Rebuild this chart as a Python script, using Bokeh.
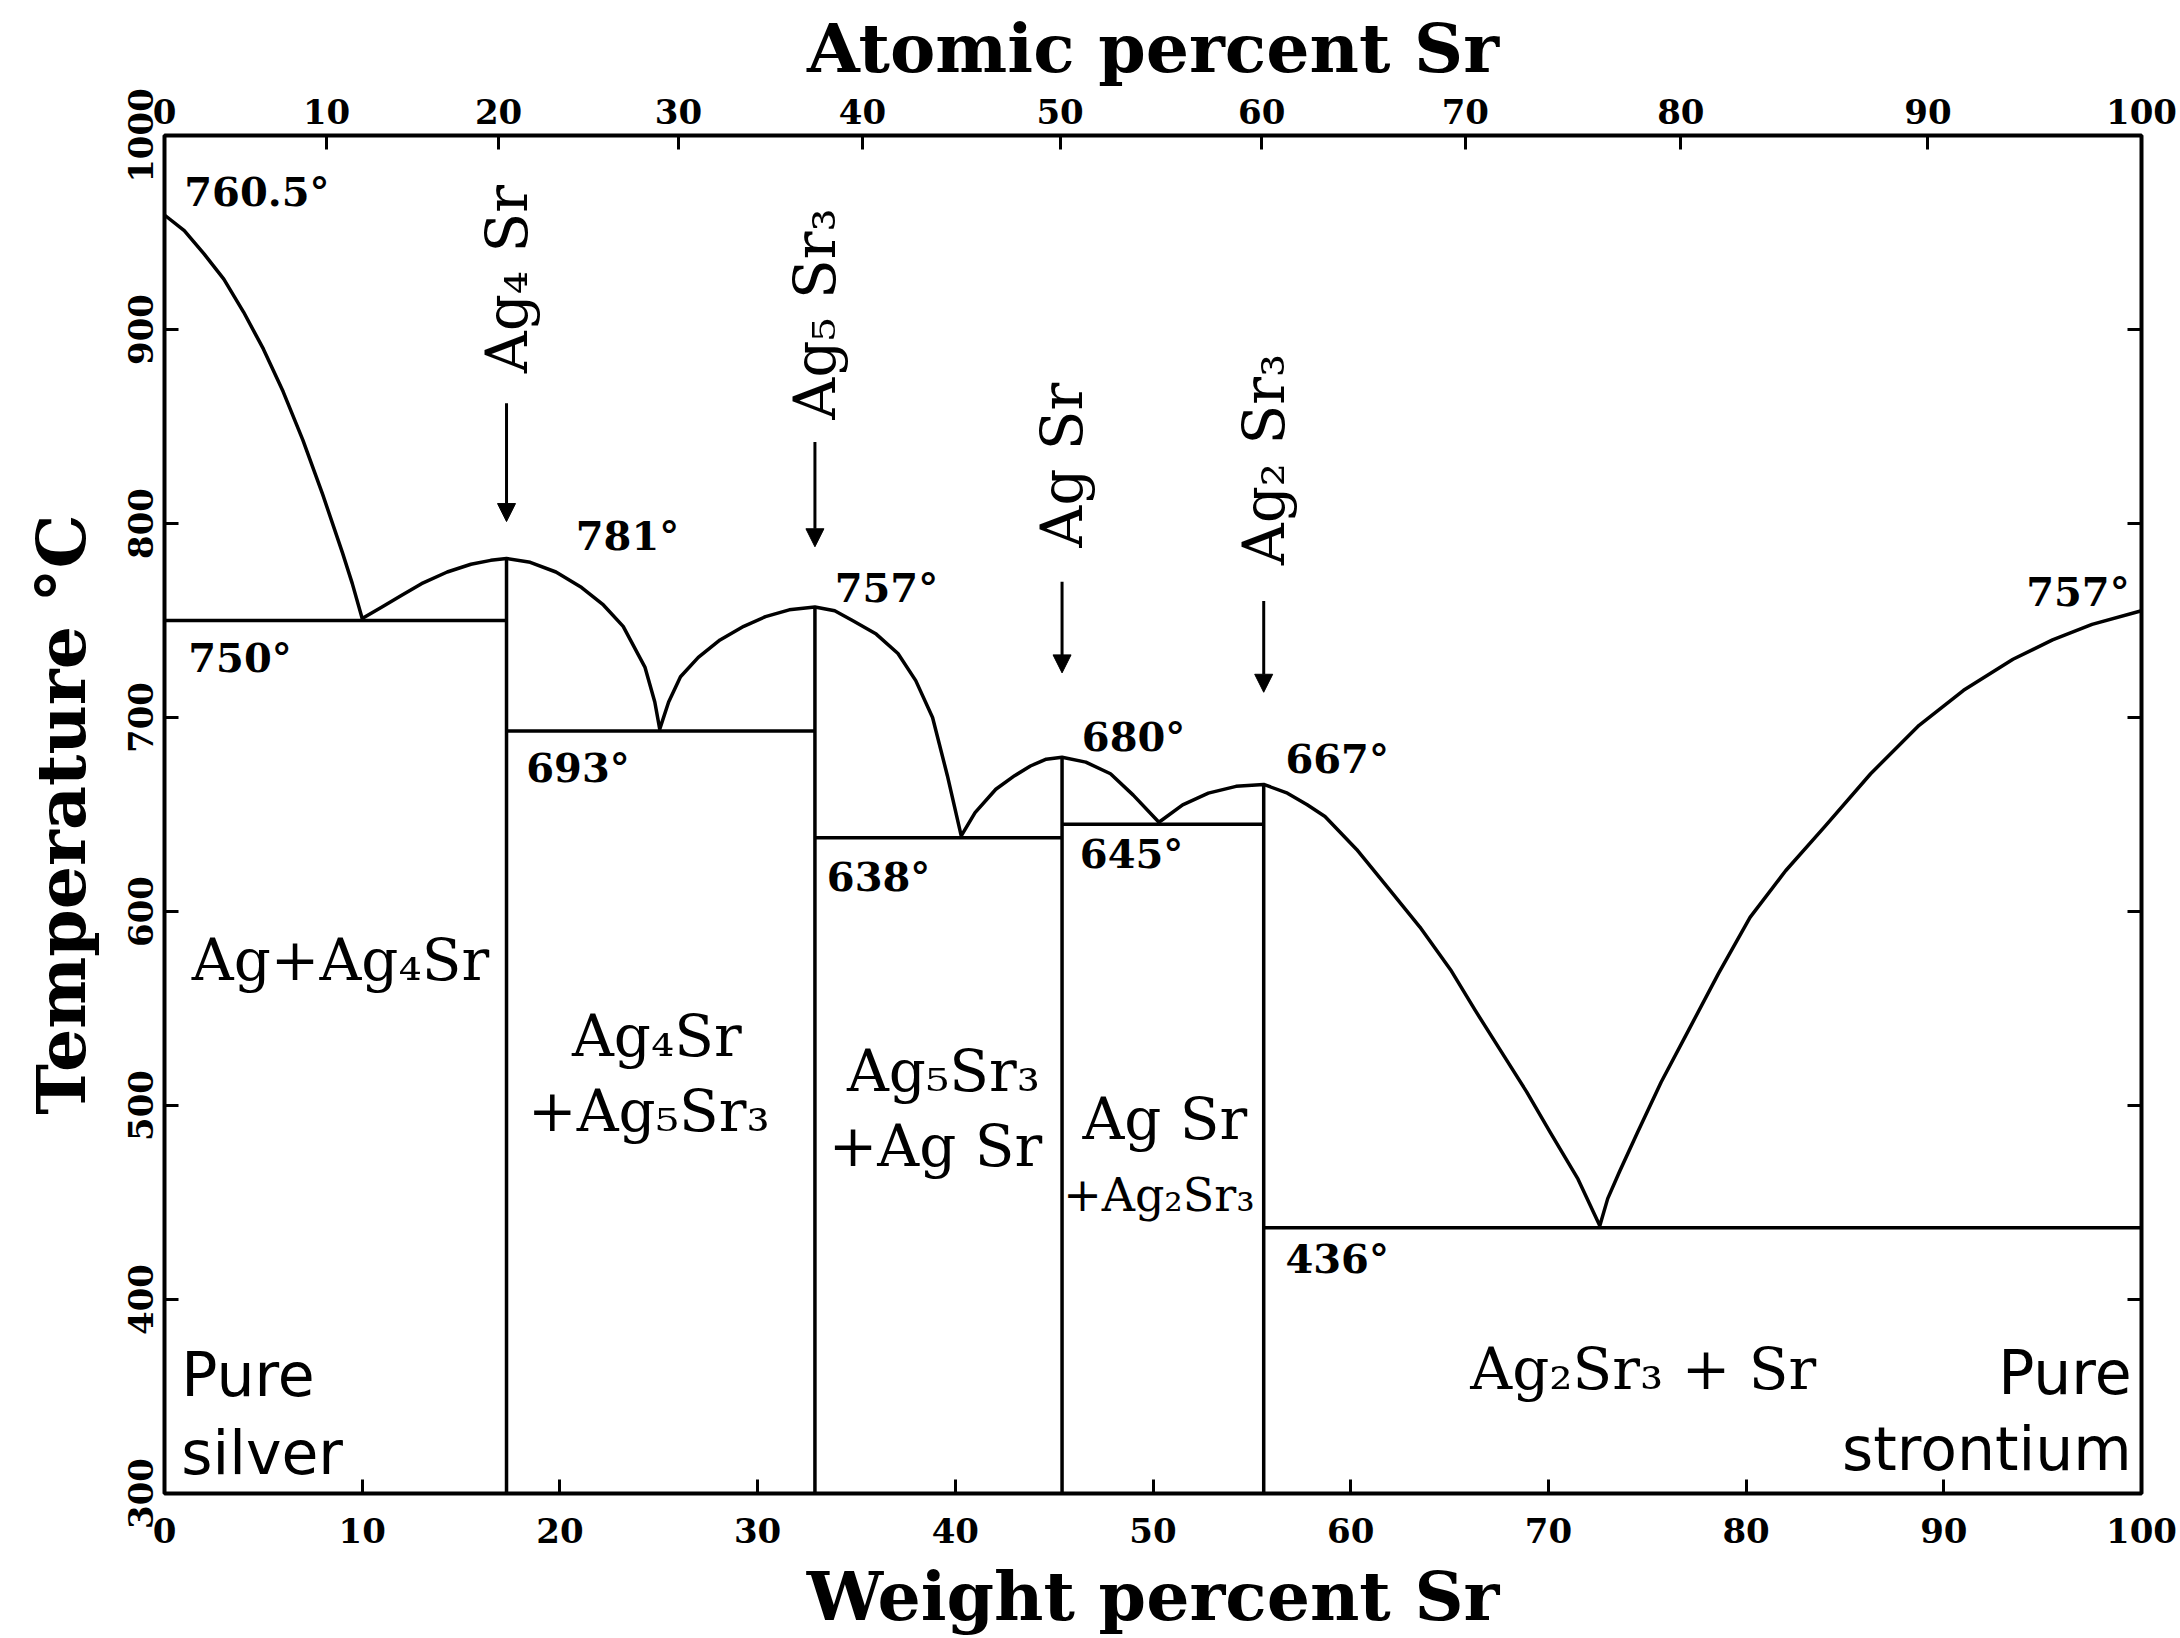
import math
from bokeh.plotting import figure
from bokeh.models import (Range1d, LinearAxis, FixedTicker, ColumnDataSource, Arrow,
                          NormalHead, CustomJSTickFormatter)
from bokeh.embed import file_html
from bokeh.resources import INLINE
from bokeh.core.properties import value

# ---------------- data (weight % Sr, temperature °C) ----------------
liquidus_wt = [0, 1, 2, 3, 4, 5, 6, 7, 8, 9, 9.5, 10.0,
               11, 12, 13, 14.3, 15.5, 16.5, 17.3,
               18.5, 19.8, 21.1, 22.2, 23.2, 24.3, 24.8, 25.05,
               25.5, 26.1, 27, 28.1, 29.3, 30.4, 31.6, 32.9,
               33.9, 34.8, 36, 37.1, 38, 38.85, 39.6, 40.3,
               41, 42.05, 43, 43.8, 44.6, 45.4,
               46.6, 47.85, 49, 50.3,
               51.5, 52.8, 54.2, 55.6,
               56.8, 57.8, 58.7, 60.3, 61.9, 63.5, 65.05, 66.3, 67.6, 68.9, 70.1, 71.5, 72.6,
               73.0, 73.6, 74.5, 75.7, 77.1, 78.6, 80.2, 82, 84.0, 86.3, 88.75, 91, 93.5, 95.5,
               97.5, 100]
liquidus_T = [959, 951, 939, 926, 909, 890, 868, 843, 815, 785, 769, 751,
              757, 763, 769, 775, 779, 781, 782,
              780, 775, 767, 758, 747, 726, 708, 694,
              708, 721, 731, 740, 747, 752, 755.5, 757,
              755, 750, 743, 733, 719, 700, 670, 639,
              651, 663, 670, 675, 678.5, 679.5,
              677, 671, 660, 646,
              655, 661, 664.5, 665.5,
              661, 655, 649, 632, 612, 592, 570, 549, 528, 507, 486, 462, 438,
              452, 466, 486, 512, 539, 568, 597, 621, 644, 671, 696, 714, 730, 740,
              748, 755]

compound_names = ["Ag\u2084 Sr", "Ag\u2085 Sr\u2083", "Ag Sr", "Ag\u2082 Sr\u2083"]
compound_wt = [17.3, 32.9, 45.4, 55.6]
compound_peak_T = [782, 757, 679.5, 665.5]
compound_label_T = [926, 908, 830, 833]
arrow_top_T = [862, 842, 770, 760]
arrow_tip_T = [801, 788, 723, 713]

eutectic_T = [750, 693, 638, 645, 437]
eutectic_from = [0, 17.3, 32.9, 45.4, 55.6]
eutectic_to = [17.3, 32.9, 45.4, 55.6, 100]

deg_text = ["760.5\u00b0", "750\u00b0", "781\u00b0", "693\u00b0", "757\u00b0", "638\u00b0",
            "680\u00b0", "645\u00b0", "667\u00b0", "436\u00b0"]
deg_wt = [1.0, 1.2, 20.8, 18.3, 33.9, 33.5, 46.4, 46.3, 56.7, 56.7]
deg_T = [971, 731, 794, 674, 767, 618, 690, 630, 679, 421]
deg_right_text = ["757\u00b0"]
deg_right_wt = [99.4]
deg_right_T = [765]

region_text = ["Ag+Ag\u2084Sr", "Ag\u2084Sr", "+Ag\u2085Sr\u2083", "Ag\u2085Sr\u2083", "+Ag Sr",
               "Ag Sr", "Ag\u2082Sr\u2083 + Sr"]
region_wt = [8.9, 24.9, 24.5, 39.4, 39.0, 50.6, 74.8]
region_T = [575, 536, 497, 518, 479, 493, 364]
small_region_text = ["+Ag\u2082Sr\u2083"]
small_region_wt = [50.3]
small_region_T = [454]

pure_left_text = ["Pure", "silver"]
pure_left_wt = [0.85, 0.85]
pure_left_T = [361, 321]
pure_right_text = ["Pure", "strontium"]
pure_right_wt = [99.5, 99.5]
pure_right_T = [362, 323]

weight_ticks = [0, 10, 20, 30, 40, 50, 60, 70, 80, 90, 100]
atomic_tick_wt = [0, 8.2, 16.9, 26.0, 35.3, 45.3, 55.5, 65.8, 76.7, 89.2, 100]
atomic_tick_labels = ["0", "10", "20", "30", "40", "50", "60", "70", "80", "90", "100"]
temp_ticks = [300, 400, 500, 600, 700, 800, 900, 1000]

# ---------------- figure ----------------
SERIF = "DejaVu Serif"
SANS = "DejaVu Sans"

p = figure(width=2180, height=1638, x_range=Range1d(0, 100), y_range=Range1d(300, 1000),
           output_backend="svg", toolbar_location=None,
           min_border_left=164, min_border_right=39, min_border_top=135, min_border_bottom=143,
           x_axis_location=None, y_axis_location=None)
p.grid.visible = False
p.outline_line_color = "black"
p.outline_line_width = 4
p.background_fill_color = "white"
p.border_fill_color = "white"


def style_axis(ax, size):
    ax.major_tick_in = 14
    ax.major_tick_out = 0
    ax.minor_tick_line_color = None
    ax.major_tick_line_width = 3
    ax.axis_line_color = None
    ax.major_label_text_font = SERIF
    ax.major_label_text_font_style = "bold"
    ax.major_label_text_font_size = size
    ax.major_label_text_color = "black"
    ax.axis_label_text_font = SERIF
    ax.axis_label_text_font_style = "bold"
    ax.axis_label_text_color = "black"


bottom = LinearAxis(ticker=FixedTicker(ticks=weight_ticks), axis_label="Weight percent Sr")
style_axis(bottom, "34px")
bottom.major_label_standoff = 24
bottom.axis_label_standoff = 10
bottom.axis_label_text_font_size = "68px"
p.add_layout(bottom, "below")

top = LinearAxis(ticker=FixedTicker(ticks=atomic_tick_wt), axis_label="Atomic percent Sr",
                 formatter=CustomJSTickFormatter(
                     args=dict(pos=atomic_tick_wt, lab=atomic_tick_labels),
                     code="const i = pos.findIndex(v => Math.abs(v - tick) < 1e-6); return i >= 0 ? lab[i] : '';"))
style_axis(top, "34px")
top.major_label_standoff = 12
top.axis_label_standoff = 8
top.axis_label_text_font_size = "68px"
p.add_layout(top, "above")

left = LinearAxis(ticker=FixedTicker(ticks=temp_ticks), axis_label="Temperature \u00b0C")
style_axis(left, "34px")
left.major_label_orientation = "parallel"
left.major_label_standoff = 12
left.axis_label_standoff = 24
left.axis_label_text_font_size = "68px"
p.add_layout(left, "left")

right = LinearAxis(ticker=FixedTicker(ticks=temp_ticks[1:-1]))
style_axis(right, "0px")
right.major_label_text_alpha = 0
right.major_label_standoff = 0
p.add_layout(right, "right")

LW = 3.5
# liquidus
p.line(liquidus_wt, liquidus_T, line_color="black", line_width=LW, line_join="round")

# compound verticals
p.segment(x0=compound_wt, y0=compound_peak_T, x1=compound_wt, y1=[300] * len(compound_wt),
          line_color="black", line_width=LW)

# eutectic horizontals
p.segment(x0=eutectic_from, y0=eutectic_T, x1=eutectic_to, y1=eutectic_T,
          line_color="black", line_width=LW)

# arrows
arrow_src = ColumnDataSource(dict(x=compound_wt, y0=arrow_top_T, y1=arrow_tip_T))
p.add_layout(Arrow(x_start="x", y_start="y0", x_end="x", y_end="y1", source=arrow_src,
                   line_color="black", line_width=3,
                   end=NormalHead(size=18, fill_color="black", line_color="black", line_width=1)))

# rotated compound labels
p.text(x=compound_wt, y=compound_label_T, text=compound_names, angle=math.pi / 2,
       text_font=value(SERIF), text_font_size="58px", text_align="center",
       text_baseline="middle", text_color="black")

# degree labels
p.text(x=deg_wt, y=deg_T, text=deg_text, text_font=value(SERIF), text_font_style="bold",
       text_font_size="40px", text_align="left", text_baseline="middle", text_color="black")
p.text(x=deg_right_wt, y=deg_right_T, text=deg_right_text, text_font=value(SERIF),
       text_font_style="bold", text_font_size="40px", text_align="right",
       text_baseline="middle", text_color="black")

# region labels
p.text(x=region_wt, y=region_T, text=region_text, text_font=value(SERIF),
       text_font_size="58px", text_align="center", text_baseline="middle", text_color="black")
p.text(x=small_region_wt, y=small_region_T, text=small_region_text, text_font=value(SERIF),
       text_font_size="46px", text_align="center", text_baseline="middle", text_color="black")

p.text(x=pure_left_wt, y=pure_left_T, text=pure_left_text, text_font=value(SANS),
       text_font_size="60px", text_align="left", text_baseline="middle", text_color="black")
p.text(x=pure_right_wt, y=pure_right_T, text=pure_right_text, text_font=value(SANS),
       text_font_size="60px", text_align="right", text_baseline="middle", text_color="black")

open("out.html", "w").write(file_html(p, INLINE))
